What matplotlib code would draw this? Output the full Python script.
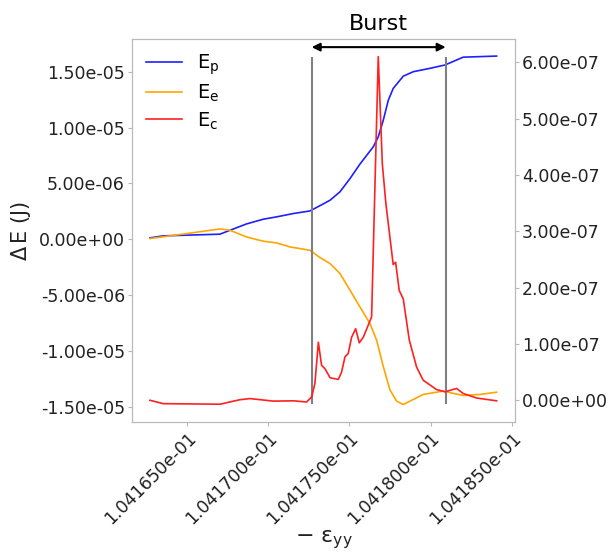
import numpy as np
import matplotlib
matplotlib.use('Agg')
import matplotlib.pyplot as plt
from matplotlib.ticker import FormatStrFormatter, MultipleLocator

# strain axis (-eps_yy) and energy increments
strain_p = [0.10416272, 0.10416354, 0.10416703, 0.10416765, 0.10416867,
            0.10416970, 0.10417052, 0.10417155, 0.10417257, 0.10417298,
            0.10417381, 0.10417442, 0.10417504, 0.10417565, 0.10417647,
            0.10417678, 0.10417709, 0.10417740, 0.10417770, 0.10417832,
            0.10417894, 0.10417996, 0.10418089, 0.10418201, 0.10418407]
E_p = [0.12e-6, 0.30e-6, 0.45e-6, 0.80e-6, 1.37e-6,
       1.79e-6, 2.00e-6, 2.30e-6, 2.53e-6, 2.84e-6,
       3.49e-6, 4.24e-6, 5.43e-6, 6.72e-6, 8.27e-6,
       9.16e-6, 10.66e-6, 12.45e-6, 13.50e-6, 14.60e-6,
       15.00e-6, 15.30e-6, 15.60e-6, 16.30e-6, 16.40e-6]

strain_e = [0.10416272, 0.10416457, 0.10416703, 0.10416765, 0.10416867,
            0.10416970, 0.10417052, 0.10417134, 0.10417257, 0.10417319,
            0.10417381, 0.10417442, 0.10417504, 0.10417565, 0.10417627,
            0.10417668, 0.10417709, 0.10417750, 0.10417791, 0.10417832,
            0.10417894, 0.10417955, 0.10418078, 0.10418201, 0.10418304,
            0.10418407]
E_e = [0.06e-6, 0.42e-6, 0.92e-6, 0.80e-6, 0.20e-6,
       -0.18e-6, -0.33e-6, -0.69e-6, -0.99e-6, -1.64e-6,
       -2.18e-6, -3.07e-6, -4.57e-6, -6.06e-6, -7.55e-6,
       -9.04e-6, -11.40e-6, -13.50e-6, -14.50e-6, -14.80e-6,
       -14.35e-6, -13.90e-6, -13.60e-6, -14.00e-6, -13.90e-6,
       -13.70e-6]

strain_c = [0.10416272, 0.10416354, 0.10416703, 0.10416826, 0.10416888,
            0.10417032, 0.10417155, 0.10417237, 0.10417268, 0.10417288,
            0.10417309, 0.10417329, 0.10417350, 0.10417381, 0.10417432,
            0.10417452, 0.10417473, 0.10417493, 0.10417514, 0.10417539,
            0.10417561, 0.10417586, 0.10417637, 0.10417678, 0.10417703,
            0.10417725, 0.10417770, 0.10417785, 0.10417807, 0.10417832,
            0.10417869, 0.10417914, 0.10417955, 0.10418037, 0.10418089,
            0.10418161, 0.10418201, 0.10418284, 0.10418407]
E_c = [0.0, -6e-9, -7e-9, 1e-9, 3e-9,
       -1.5e-9, -1e-9, -3e-9, 6e-9, 3.0e-8,
       1.03e-7, 6.2e-8, 5.6e-8, 4.0e-8, 3.7e-8,
       5.0e-8, 7.7e-8, 8.3e-8, 1.12e-7, 1.27e-7,
       1.02e-7, 1.12e-7, 1.48e-7, 6.1e-7, 4.2e-7,
       3.49e-7, 2.41e-7, 2.45e-7, 1.95e-7, 1.8e-7,
       1.07e-7, 5.9e-8, 3.55e-8, 1.9e-8, 1.5e-8,
       2.1e-8, 1.2e-8, 4e-9, -1e-9]

# burst window
burst_start = 0.10417268
burst_end = 0.10418093

fig = plt.figure(figsize=(6.08, 5.6), dpi=100)
ax = fig.add_subplot(111)
ax2 = ax.twinx()

l1, = ax.plot(strain_p, E_p, color='#1f1fff', lw=1.2, label=r'$\mathrm{E_p}$')
l2, = ax.plot(strain_e, E_e, color='orange', lw=1.2, label=r'$\mathrm{E_e}$')
l3, = ax2.plot(strain_c, E_c, color='#ff2020', lw=1.2, label=r'$\mathrm{E_c}$')

ax.vlines([burst_start, burst_end], -1.478e-5, 1.63e-5, color='gray', lw=1.5)

ax.set_xlim(0.10416161, 0.10418520)
ax.set_ylim(-1.639e-5, 1.791e-5)
ax2.set_ylim(-3.9e-8, 6.41e-7)

ax.xaxis.set_major_locator(MultipleLocator(5e-6))
ax.xaxis.set_major_formatter(FormatStrFormatter('%.6e'))
ax.yaxis.set_major_locator(MultipleLocator(5e-6))
ax.yaxis.set_major_formatter(FormatStrFormatter('%.2e'))
ax2.yaxis.set_major_locator(MultipleLocator(1e-7))
ax2.yaxis.set_major_formatter(FormatStrFormatter('%.2e'))

for a in (ax, ax2):
    for s in a.spines.values():
        s.set_color('#b8b8b8')
    a.tick_params(colors='#b8b8b8', labelcolor='#222222', labelsize=12.5, length=3, pad=2)

for lbl in ax.get_xticklabels():
    lbl.set_rotation(45)
    lbl.set_ha('right')
    lbl.set_rotation_mode('anchor')

ax.set_ylabel(r'$\Delta\,\mathrm{E}$ (J)', fontsize=15, color='#222222')
ax.set_xlabel('− ε$_{\\mathrm{yy}}$', fontsize=16, color='#222222', labelpad=0)

ax.annotate('', xy=(burst_start, 1.72e-5), xytext=(burst_end, 1.72e-5),
            arrowprops=dict(arrowstyle='<|-|>', color='black', lw=1.5,
                            shrinkA=0, shrinkB=0, mutation_scale=12),
            annotation_clip=False)
ax.text((burst_start + burst_end) / 2, 1.93e-5, 'Burst', ha='center', va='center',
        fontsize=16, clip_on=False)

ax.legend(handles=[l1, l2, l3], loc='upper left', frameon=False, fontsize=14,
          handlelength=1.85, handletextpad=0.8, labelspacing=0.3, borderaxespad=0.3)

plt.subplots_adjust(left=0.217, right=0.847, top=0.930, bottom=0.246)
fig.savefig('out.png', dpi=100)
